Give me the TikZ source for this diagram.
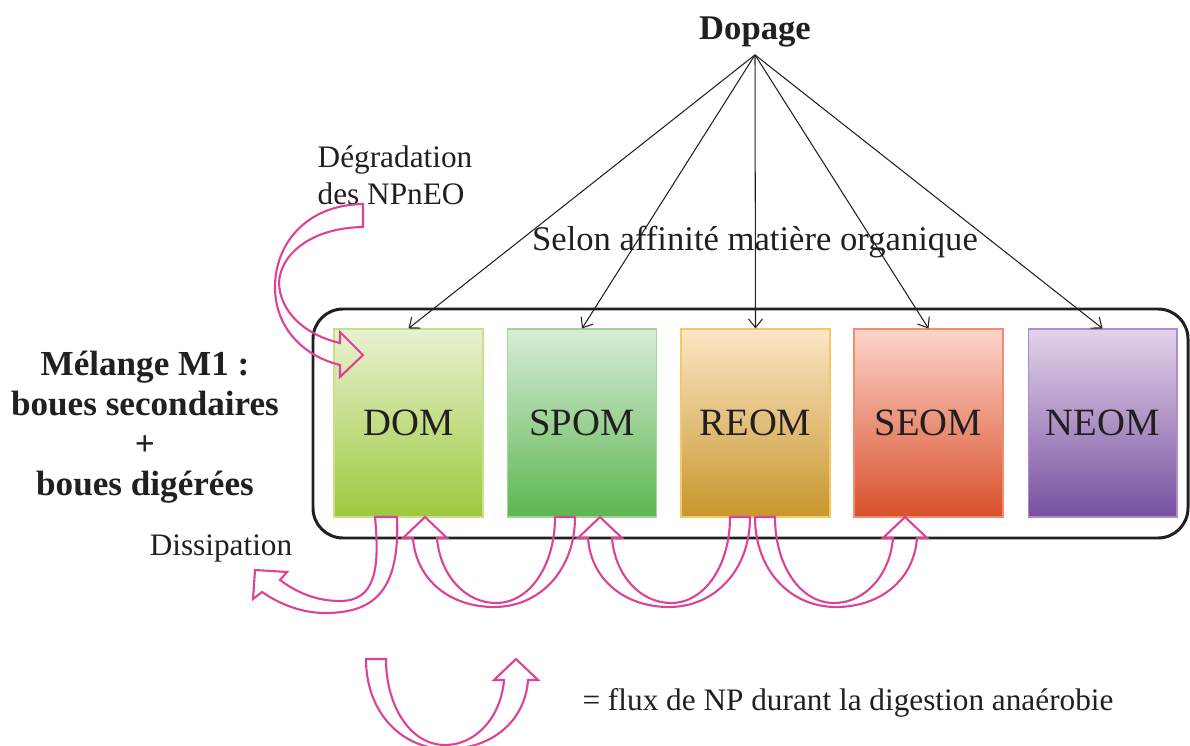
\documentclass[tikz,border=0pt]{standalone}
\usepackage{fontspec}
\setmainfont{Liberation Serif}
\usetikzlibrary{arrows.meta}
\definecolor{rose}{RGB}{220,66,152}
\definecolor{encre}{RGB}{35,31,32}
\definecolor{domhaut}{RGB}{232,241,208}
\definecolor{dombas}{RGB}{157,201,61}
\definecolor{dombord}{RGB}{200,224,140}
\definecolor{spomhaut}{RGB}{216,236,216}
\definecolor{spombas}{RGB}{92,183,80}
\definecolor{spombord}{RGB}{160,212,150}
\definecolor{reomhaut}{RGB}{252,230,198}
\definecolor{reombas}{RGB}{200,150,45}
\definecolor{reombord}{RGB}{246,200,100}
\definecolor{seomhaut}{RGB}{252,212,202}
\definecolor{seombas}{RGB}{217,80,42}
\definecolor{seombord}{RGB}{242,140,110}
\definecolor{neomhaut}{RGB}{226,211,233}
\definecolor{neombas}{RGB}{120,80,160}
\definecolor{neombord}{RGB}{172,140,205}
\tikzset{
  >=stealth,
  line join=miter,
  fleche/.style={-{Straight Barb[length=5pt,width=8pt]}, line width=0.6pt, draw=encre},
  boite/.style={draw, line width=0.6pt, minimum width=2.98cm, minimum height=3.76cm,
    inner sep=0pt, text=encre, font=\fontsize{22}{26}\selectfont},
  cadre/.style={draw=encre, line width=1.7pt, rounded corners=0.6cm},
  fluxline/.style={draw=rose, line width=1.2pt},
  titre/.style={text=encre, inner sep=4.2pt, font=\bfseries\fontsize{19.7}{23}\selectfont},
  texte/.style={text=encre, inner sep=0pt, font=\fontsize{17.8}{21}\selectfont},
  % fleche creuse en U, origine au coin exterieur de la queue
  flux/.pic={
    \draw[fluxline] (20,0) -- (0,0)
      .. controls (0,53) and (35,90) .. (81,90)
      .. controls (125,90) and (159,63) .. (162,21)
      -- (172,21) -- (150,0) -- (128,21) -- (138,21)
      .. controls (135,58) and (110,86) .. (79,86)
      .. controls (45,86) and (20,48) .. (20,0) -- cycle;
  }
}

\begin{document}
\begin{tikzpicture}[x=0.02cm, y=-0.02cm]
  \useasboundingbox (0,0) rectangle (1190,746);

  \draw[cadre] (313,309) rectangle (1188,538);

  \node[boite, draw=dombord, top color=domhaut, bottom color=dombas] (dom) at (408.5,423) {DOM};
  \node[boite, draw=spombord, top color=spomhaut, bottom color=spombas] (spom) at (582,423) {SPOM};
  \node[boite, draw=reombord, top color=reomhaut, bottom color=reombas] (reom) at (755.5,423) {REOM};
  \node[boite, draw=seombord, top color=seomhaut, bottom color=seombas] (seom) at (928.5,423) {SEOM};
  \node[boite, draw=neombord, top color=neomhaut, bottom color=neombas] (neom) at (1102.5,423) {NEOM};

  \node[titre] (dopage) at (755,32) {Dopage};
  \node[texte, font=\fontsize{19.7}{23}\selectfont] (selon) at (755,242) {Selon affinité matière organique};

  \draw[fleche] (dopage.south) -- (dom.north);
  \draw[fleche] (dopage.south) -- (spom.north);
  \draw[fleche] (dopage.south) -- (reom.north);
  \draw[fleche] (dopage.south) -- (seom.north);
  \draw[fleche] (dopage.south) -- (neom.north);

  \node[texte, align=center, font=\bfseries\fontsize{20}{22.7}\selectfont] (melange) at (145,427)
    {Mélange M1 :\\boues secondaires\\+\\boues digérées};
  \node[texte, align=left] (degradation) at (395,175) {Dégradation\\des NPnEO};
  \node[texte] (dissipation) at (221,548) {Dissipation};
  \node[texte] (legende) at (848,703) {= flux de NP durant la digestion anaérobie};

  % flux entre fractions
  \pic[xscale=-1] at (575,517) {flux};
  \pic[xscale=-1] at (750,517) {flux};
  \pic at (755,517) {flux};
  \pic at (366,659) {flux};

  % degradation et dissipation
  \draw[fluxline] (363,204) -- (363,227)
    .. controls (310,228) and (280,255) .. (279,283)
    .. controls (280,312) and (305,335) .. (340,343)
    -- (340,332) -- (363,355) -- (340,377) -- (340,365)
    .. controls (300,355) and (275,325) .. (275,287)
    .. controls (275,245) and (305,205) .. (363,204) -- cycle;
  \draw[fluxline] (375,517) -- (397,517)
    .. controls (400,590) and (375,613) .. (325,613)
    .. controls (300,613) and (278,603) .. (262,592)
    -- (253,599) -- (255,570) -- (287,572) -- (280,580)
    .. controls (300,595) and (320,601) .. (340,601)
    .. controls (375,601) and (380,570) .. (375,517) -- cycle;
\end{tikzpicture}
\end{document}
